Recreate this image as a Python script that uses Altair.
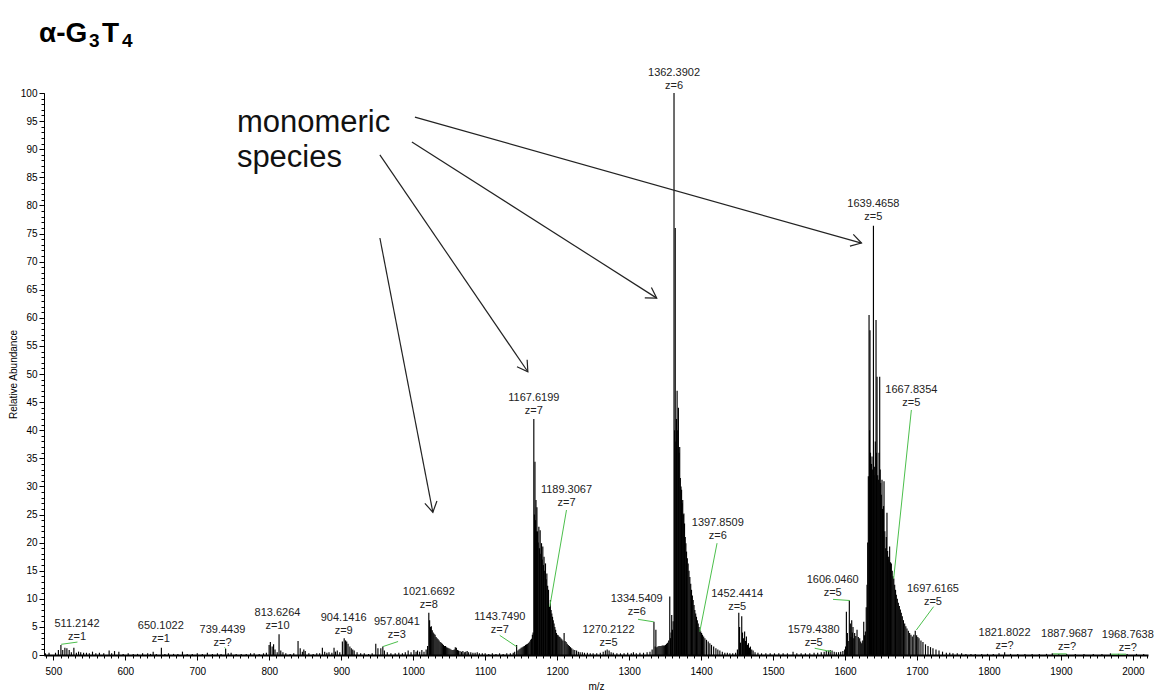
import math
import altair as alt
import pandas as pd

# ---------------- spectrum: m/z and relative abundance ----------------
# 487 - 1000
mz_r1 = [489, 494, 503, 507, 510.5, 513, 516, 518.8, 522, 525, 528.5, 532, 535, 538, 542,
         546, 550, 554.4, 559, 564, 570, 577.5, 581, 585, 591, 597, 604, 611, 617, 624,
         631, 635, 638.7, 643, 650.1, 655, 660, 667, 673, 679.4, 686, 693, 700, 707, 714,
         721, 728, 733, 739.4, 743, 747, 754, 761, 768, 774, 779, 786, 792, 796, 799.8,
         801.5, 804, 806, 808, 811, 813.6, 816, 819, 823, 829, 834, 840, 843, 846, 848,
         850, 855, 861, 866, 870, 873.8, 877, 880, 883, 887, 890, 892, 894.5, 898, 901.6,
         904.1, 906, 907.6, 909.5, 912, 914, 916, 918, 922, 927, 932, 938, 943, 948, 951,
         955, 957.8, 960, 964, 969, 975, 980, 985, 989, 993, 997]
ab_r1 = [0.3, 0.4, 0.4, 0.9, 1.8, 0.9, 1.3, 1.2, 0.9, 0.5, 1.3, 0.4, 0.6, 0.5, 0.4,
         0.4, 0.3, 0.6, 0.3, 0.4, 0.3, 0.8, 0.3, 0.7, 0.6, 0.2, 0.3, 0.2, 0.2, 0.3,
         0.3, 0.2, 0.6, 0.2, 1.3, 0.2, 0.3, 0.2, 0.2, 0.6, 0.2, 0.2, 0.3, 0.2, 0.4,
         0.2, 0.3, 0.2, 1.1, 0.3, 0.4, 0.2, 0.2, 0.2, 0.3, 0.3, 0.2, 0.3, 0.4, 1.8,
         2.3, 1.5, 1.9, 1.0, 0.5, 3.7, 0.8, 0.5, 0.3, 0.2, 0.3, 2.5, 1.2, 0.6, 1.0,
         0.7, 0.3, 0.2, 0.3, 0.3, 1.3, 0.6, 0.4, 0.5, 0.4, 1.3, 0.6, 0.8, 0.5, 2.4,
         3.0, 2.6, 2.4, 2.0, 1.5, 1.2, 1.0, 0.8, 0.5, 0.3, 0.3, 0.2, 0.3, 2.0, 1.2,
         1.2, 1.5, 0.8, 0.5, 0.3, 0.3, 0.4, 0.3, 0.5, 0.8, 0.5]

# 1000 - 1142 (z=8 envelope)
mz_r2 = [1001, 1004, 1006, 1009, 1012, 1015, 1018, 1020,
         1021.7, 1022.8, 1024, 1025.2, 1026.5, 1027.8, 1029, 1030.4, 1031.8, 1033.2, 1034.6, 1036,
         1037.5, 1039, 1040.5, 1042, 1043.5, 1045, 1046.5, 1048, 1049.5, 1051, 1052.5, 1054,
         1055.5, 1057, 1058.5, 1060, 1061.5, 1063,
         1065, 1067, 1069, 1071, 1073, 1075, 1077, 1080, 1083, 1086, 1089, 1092, 1096, 1100,
         1105, 1110, 1115, 1120, 1125, 1130, 1135, 1139, 1141]
ab_r2 = [0.9, 0.6, 0.8, 0.6, 0.9, 0.6, 1.0, 1.6,
         7.5, 6.2, 5.0, 5.1, 4.4, 4.0, 3.8, 3.6, 3.2, 3.0, 2.8, 2.6,
         2.3, 2.2, 2.0, 1.8, 1.6, 1.6, 1.4, 1.3, 1.2, 1.1, 1.0, 0.9,
         0.9, 1.0, 1.4, 1.3, 0.9, 0.8,
         0.7, 0.6, 0.7, 0.5, 0.6, 0.7, 0.5, 0.5, 0.4, 0.4, 0.5, 0.3, 0.3, 0.3,
         0.2, 0.3, 0.2, 0.3, 0.2, 0.3, 0.3, 0.4, 0.6]

# 1143 - 1333 (z=7 envelope)
mz_r3 = [1143.7, 1145.5, 1147, 1148.5, 1150, 1151.5, 1153, 1154.5, 1156, 1157.5, 1159, 1160.5,
         1162, 1163.3, 1164.5, 1165.6, 1166.6,
         1167.6, 1168.5, 1169.2, 1170.0, 1170.6, 1171.3, 1171.9, 1172.7, 1173.6, 1174.6,
         1175.5, 1176.4, 1177.3, 1178.3, 1179.2, 1180.1, 1181.0, 1181.8, 1182.8, 1183.8,
         1184.8, 1185.7, 1186.8, 1188.0, 1189.3, 1190.6, 1191.6, 1192.6, 1193.6, 1194.6,
         1195.7, 1196.8, 1197.9, 1199.0, 1200.2, 1201.4, 1202.6, 1203.8, 1205.2, 1206.5,
         1208.0, 1209.7, 1211.0, 1212.5, 1214.0, 1215.5, 1217.0, 1218.6, 1220.3, 1222.2,
         1224.5, 1227, 1229.5, 1232, 1235, 1238, 1242, 1246, 1250, 1255,
         1260, 1264, 1267, 1269.5, 1272.2, 1275, 1278, 1283, 1288, 1293,
         1298, 1303, 1306, 1310, 1315, 1320, 1325, 1329, 1332]
ab_r3 = [1.8, 0.8, 1.0, 1.1, 1.3, 1.4, 1.5, 1.6, 1.8, 1.9, 2.0, 2.2,
         2.4, 2.7, 2.9, 3.6, 4.0,
         42.0, 25.0, 34.4, 24.0, 27.6, 22.0, 26.3, 22.0, 20.0, 22.8,
         19.0, 22.2, 18.0, 19.9, 17.0, 19.3, 16.0, 17.5, 15.0, 16.3,
         13.5, 14.5, 12.3, 11.6, 8.6, 9.8, 8.0, 7.4, 6.8, 6.2,
         5.6, 5.0, 4.5, 3.9, 3.6, 3.5, 3.3, 3.2, 3.0, 2.8,
         2.6, 3.9, 2.5, 2.3, 2.0, 1.8, 1.6, 1.4, 1.2, 1.0,
         0.9, 0.8, 0.6, 0.5, 0.5, 0.4, 0.4, 0.3, 0.3, 0.3,
         0.4, 0.6, 0.8, 1.0, 0.8, 0.5, 0.4, 0.3, 0.3, 0.3,
         0.4, 0.3, 0.5, 0.3, 0.4, 0.4, 0.5, 0.6, 1.0]

# 1334 - 1598 (z=6 envelope and z=5 satellites)
mz_r4 = [1334.5, 1336.2, 1337.2, 1338.5, 1340, 1341.5, 1343, 1344.5, 1346, 1347.5,
         1349, 1350.5, 1352, 1353.5, 1355, 1356.5, 1357.5, 1358.3, 1359.2, 1360.2,
         1361.2, 1362.4, 1363.3, 1364.1, 1365.0, 1365.8, 1366.7, 1367.6, 1368.5, 1369.4,
         1370.3, 1371.2, 1372.1, 1372.9, 1373.7, 1374.5, 1375.3, 1376.1, 1377.0, 1378.0,
         1378.9, 1379.8, 1380.9, 1382.0, 1383.2, 1384.4, 1385.6, 1386.7, 1387.9, 1389.0,
         1390.2, 1391.3, 1392.5, 1393.6, 1394.8, 1396.0, 1397.2, 1398.3, 1399.5, 1400.7,
         1402.0, 1403.6, 1405.3, 1407.5, 1409.9, 1412.2, 1414.5, 1417.5, 1420.6, 1423.3,
         1426.1, 1429.5, 1433, 1436.5, 1440, 1444, 1448, 1450.5, 1452.4, 1453.5,
         1454.8, 1456.5, 1457.6, 1458.8, 1460.5, 1461.8, 1463, 1464.5, 1465.8, 1467.2,
         1468.6, 1470.4, 1472.3, 1475, 1479, 1484, 1490, 1496, 1502, 1508,
         1514, 1520, 1527.8, 1533, 1539, 1545, 1551, 1557, 1562, 1567,
         1571, 1574, 1577, 1579.4, 1582, 1585, 1588, 1591, 1594, 1597]
ab_r4 = [5.9, 1.5, 4.5, 1.4, 1.5, 1.6, 1.6, 1.6, 1.7, 1.7,
         1.7, 1.8, 2.0, 2.2, 2.6, 10.4, 3.0, 4.0, 7.1, 4.5,
         6.0, 100.0, 40.0, 76.0, 38.0, 42.0, 47.0, 40.0, 44.0, 36.0,
         37.0, 31.5, 30.0, 29.4, 27.0, 27.6, 25.0, 25.2, 23.4, 21.0,
         19.9, 18.4, 17.2, 16.3, 15.0, 13.9, 12.7, 11.6, 10.6, 9.8,
         8.9, 8.0, 7.4, 6.8, 6.2, 5.6, 5.0, 4.5, 4.2, 3.9,
         3.6, 3.3, 3.0, 2.7, 2.4, 2.1, 1.8, 1.5, 1.2, 1.0,
         0.8, 0.6, 0.4, 0.4, 0.3, 0.3, 0.4, 1.0, 7.5, 5.0,
         2.2, 6.9, 4.0, 3.0, 4.2, 2.5, 3.3, 1.8, 2.1, 1.3,
         1.5, 1.0, 0.8, 0.5, 0.4, 0.3, 0.3, 0.3, 0.3, 0.3,
         0.3, 0.3, 0.6, 0.3, 0.3, 0.3, 0.3, 0.4, 0.4, 0.5,
         0.6, 0.7, 0.8, 0.9, 0.8, 0.6, 0.5, 0.5, 0.6, 0.7]

# 1599 - 2020 (z=5 envelope and high-m/z tail)
mz_r5 = [1599.5, 1600.8, 1601.9, 1603.3, 1604.5, 1606.0, 1607.4, 1608.4, 1609.3, 1610.2,
         1611.1, 1612.2, 1613.4, 1615.0, 1616.7, 1618.5, 1620.4, 1621.8, 1623.2, 1624.6,
         1626.0, 1627.2, 1628.3, 1629.5, 1630.6, 1631.5, 1632.4, 1633.4, 1634.1, 1634.7,
         1635.4, 1636.1, 1636.8, 1637.5, 1638.4, 1639.5, 1640.3, 1641.2, 1642.1, 1643.1,
         1643.8, 1644.5, 1645.4, 1646.3, 1647.3, 1648.2, 1648.9, 1649.5, 1650.5, 1651.4,
         1652.1, 1652.8, 1653.5, 1654.2, 1655.3, 1656.5, 1657.4, 1658.3, 1659.2, 1660.2,
         1661.1, 1662.0, 1663.2, 1664.4, 1665.6, 1666.7, 1667.8, 1669.0, 1670.2, 1671.3,
         1672.7, 1674.1, 1675.5, 1676.9, 1678.2, 1679.6, 1681.2, 1682.9, 1684.5, 1686.1,
         1688.0, 1689.8, 1691.6, 1693.5, 1695.6, 1697.6, 1699.5, 1701.2, 1702.8, 1705.5,
         1708.3, 1711.8, 1715.3, 1718.8, 1722.2, 1726.4, 1730.6, 1735.5, 1740.8, 1745.5,
         1750, 1756, 1762, 1768, 1775, 1781, 1790, 1798, 1806, 1814,
         1821.8, 1830, 1840, 1850, 1860, 1870, 1880, 1888.0, 1897, 1908,
         1920, 1932, 1945, 1957, 1968.8, 1980, 1992, 2005, 2015]
ab_r5 = [1.0, 1.5, 7.7, 3.9, 2.5, 9.7, 5.6, 3.2, 6.2, 4.0,
         5.0, 3.0, 3.9, 3.4, 4.5, 3.2, 3.0, 2.4, 2.1, 2.6,
         5.9, 3.5, 4.2, 8.5, 12.5, 20.0, 31.8, 60.5, 40.0, 57.8,
         36.0, 32.4, 34.0, 35.3, 33.0, 76.4, 32.0, 33.5, 38.0, 59.6,
         36.0, 49.5, 32.0, 31.2, 36.0, 49.5, 33.0, 30.6, 28.5, 31.2,
         26.0, 24.1, 26.5, 30.9, 22.0, 19.0, 21.0, 25.3, 18.5, 17.5,
         17.0, 19.3, 16.5, 16.3, 15.0, 14.0, 13.6, 12.5, 11.6, 10.7,
         10.0, 9.3, 8.7, 8.1, 7.5, 6.9, 6.2, 5.6, 5.1, 4.7,
         4.3, 3.9, 3.6, 3.3, 3.6, 4.3, 3.5, 3.2, 3.0, 2.6,
         2.3, 1.9, 1.6, 1.4, 1.2, 1.0, 0.8, 0.6, 0.4, 0.4,
         0.3, 0.3, 0.3, 0.2, 0.2, 0.2, 0.2, 0.2, 0.2, 0.3,
         0.5, 0.2, 0.2, 0.2, 0.2, 0.2, 0.2, 0.3, 0.2, 0.2,
         0.2, 0.2, 0.2, 0.2, 0.3, 0.2, 0.2, 0.2, 0.2]

spectrum = pd.DataFrame({
    "mz": mz_r1 + mz_r2 + mz_r3 + mz_r4 + mz_r5,
    "abundance": ab_r1 + ab_r2 + ab_r3 + ab_r4 + ab_r5,
})

# ---------------- peak labels (m/z, charge) ----------------
label_mass = ["511.2142", "650.1022", "739.4439", "813.6264", "904.1416", "957.8041",
              "1021.6692", "1143.7490", "1167.6199", "1189.3067", "1270.2122", "1334.5409",
              "1362.3902", "1397.8509", "1452.4414", "1579.4380", "1606.0460", "1639.4658",
              "1667.8354", "1697.6165", "1821.8022", "1887.9687", "1968.7638"]
label_charge = ["z=1", "z=1", "z=?", "z=10", "z=9", "z=3",
                "z=8", "z=7", "z=7", "z=7", "z=5", "z=6",
                "z=6", "z=6", "z=5", "z=5", "z=5", "z=5",
                "z=5", "z=5", "z=?", "z=?", "z=?"]
label_mz = [532.9, 649.3, 735.0, 811.4, 903.4, 977.3,
            1021.7, 1120.4, 1167.6, 1213.0, 1271.5, 1310.6,
            1362.4, 1423.2, 1450.2, 1556.5, 1582.9, 1639.4,
            1692.2, 1722.2, 1821.7, 1908.6, 1993.0]
label_ab = [2.4, 1.9, 1.3, 4.2, 3.4, 2.7,
            8.0, 3.6, 42.6, 26.2, 1.25, 6.7,
            100.3, 20.3, 7.7, 1.25, 10.1, 77.1,
            43.9, 8.6, 0.7, 0.5, 0.35]

labels = pd.DataFrame({
    "text": [f"{m}\n{z}" for m, z in zip(label_mass, label_charge)],
    "mz": label_mz,
    "abundance": label_ab,
})

# leader lines from a peak top to its label
leader_mz1 = [510.8, 739.4, 958.0, 1143.5, 1189.8, 1334.2, 1398.2, 1581.1, 1606.5, 1667.6, 1699.1, 1889.0, 1969.8]
leader_ab1 = [1.9, 1.1, 1.5, 1.5, 8.6, 5.9, 4.15, 0.6, 9.7, 13.6, 4.45, 0.2, 0.15]
leader_mz2 = [533.5, 738.0, 979.0, 1120.2, 1213.0, 1312.4, 1422.2, 1557.9, 1583.3, 1692.2, 1723.1, 1908.0, 1990.6]
leader_ab2 = [2.3, 1.35, 2.4, 3.5, 25.8, 6.35, 19.9, 1.2, 9.9, 43.6, 8.6, 0.2, 0.15]
leaders = pd.DataFrame({"mz": leader_mz1, "abundance": leader_ab1,
                        "mz2": leader_mz2, "abundance2": leader_ab2})

# ---------------- heading "α-G3T4" (subscripted digits) ----------------
head_text = ["α-G", "T"]
head_mz = [480.0, 567.6]
head_ab = [109.1, 109.1]
sub_text = ["3", "4"]
sub_mz = [549.5, 595.4]
sub_ab = [108.2, 108.2]
heading = pd.DataFrame({"text": head_text, "mz": head_mz, "abundance": head_ab})
heading_sub = pd.DataFrame({"text": sub_text, "mz": sub_mz, "abundance": sub_ab})

# ---------------- "monomeric species" call-out ----------------
note_text = ["monomeric", "species"]
note_mz = [755.0, 755.0]
note_ab = [93.0, 86.8]
notes = pd.DataFrame({"text": note_text, "mz": note_mz, "abundance": note_ab})

arrow_mz1 = [1002.4, 998.2, 953.7, 953.7]
arrow_ab1 = [95.7, 91.3, 89.0, 74.2]
arrow_mz2 = [1622.9, 1338.4, 1159.3, 1027.3]
arrow_ab2 = [73.3, 63.5, 50.4, 25.4]

# ---------------- layout ----------------
MZ_MIN, MZ_MAX = 487, 2021
PLOT_W, PLOT_H = 1104, 562
px_per_mz = PLOT_W / (MZ_MAX - MZ_MIN)
px_per_ab = PLOT_H / 100.0

# heading of each arrow on screen, so the open head lines up with its shaft
arrow_angle = []
for m1, a1, m2, a2 in zip(arrow_mz1, arrow_ab1, arrow_mz2, arrow_ab2):
    dx = (m2 - m1) * px_per_mz
    dy = -(a2 - a1) * px_per_ab
    arrow_angle.append(math.degrees(math.atan2(dy, dx)) % 360)

arrows = pd.DataFrame({"mz": arrow_mz1, "abundance": arrow_ab1,
                       "mz2": arrow_mz2, "abundance2": arrow_ab2,
                       "angle": arrow_angle})

FONT = "Liberation Sans"
x_scale = alt.Scale(domain=[MZ_MIN, MZ_MAX], nice=False, zero=False)
y_scale = alt.Scale(domain=[0, 100], nice=False, zero=True)

x_major = alt.Axis(
    values=list(range(500, 2001, 100)), format="d", title="m/z",
    orient="bottom", tickSize=5, tickColor="black", tickWidth=1,
    labelFont=FONT, labelFontSize=10, labelColor="black", labelPadding=6,
    titleFont=FONT, titleFontSize=10, titleFontWeight="normal", titleColor="black",
    titlePadding=5, domainColor="black", domainWidth=2, grid=False, labelFlush=False,
)
y_major = alt.Axis(
    values=list(range(0, 101, 5)), title="Relative Abundance",
    orient="left", tickSize=5, tickColor="black", tickWidth=1,
    labelFont=FONT, labelFontSize=10, labelColor="black", labelPadding=2,
    titleFont=FONT, titleFontSize=10, titleFontWeight="normal", titleColor="black",
    titlePadding=2, domainColor="black", domainWidth=1, grid=False,
)
x_minor = alt.Axis(values=list(range(490, 2021, 10)), orient="bottom", labels=False,
                   title=None, tickSize=3, tickColor="black", domain=False, grid=False)
y_minor = alt.Axis(values=list(range(0, 101, 1)), orient="left", labels=False,
                   title=None, tickSize=3, tickColor="black", domain=False, grid=False)


def plain_xy(x_field="mz", y_field="abundance"):
    return dict(
        x=alt.X(f"{x_field}:Q", scale=x_scale, axis=None),
        y=alt.Y(f"{y_field}:Q", scale=y_scale, axis=None),
    )


sticks = alt.Chart(spectrum).mark_rule(color="black", strokeWidth=1.15).encode(
    x=alt.X("mz:Q", scale=x_scale, axis=x_major),
    y=alt.Y("abundance:Q", scale=y_scale, axis=y_major),
    y2=alt.datum(0),
)

minor_ticks = alt.Chart(spectrum).mark_rule(opacity=0).encode(
    x=alt.X("mz:Q", scale=x_scale, axis=x_minor),
    y=alt.Y("abundance:Q", scale=y_scale, axis=y_minor),
)

leader_lines = alt.Chart(leaders).mark_rule(color="#4cbf4c", strokeWidth=1).encode(
    **plain_xy(), x2="mz2:Q", y2="abundance2:Q",
)

# two-line labels: the text block's last line sits on the anchor
peak_labels = alt.Chart(labels).mark_text(
    font=FONT, fontSize=11, lineHeight=13, lineBreak="\n", dy=-13,
    align="center", baseline="bottom", color="#222222",
).encode(**plain_xy(), text="text:N")

note_labels = alt.Chart(notes).mark_text(
    font=FONT, fontSize=31, align="left", baseline="alphabetic", color="#111111",
).encode(**plain_xy(), text="text:N")

heading_main = alt.Chart(heading).mark_text(
    font=FONT, fontSize=28, fontWeight="bold", align="left", baseline="alphabetic",
    color="black",
).encode(**plain_xy(), text="text:N")

heading_subs = alt.Chart(heading_sub).mark_text(
    font=FONT, fontSize=19, fontWeight="bold", align="left", baseline="alphabetic",
    color="black",
).encode(**plain_xy(), text="text:N")

arrow_shafts = alt.Chart(arrows).mark_rule(color="#222222", strokeWidth=1.2).encode(
    **plain_xy(), x2="mz2:Q", y2="abundance2:Q",
)

arrow_heads = alt.Chart(arrows).mark_point(
    shape="M -1 -0.6 L 0 0 L -1 0.6", filled=False, size=420,
    strokeWidth=1.2, color="#222222", opacity=1,
).encode(
    **plain_xy("mz2", "abundance2"),
    angle=alt.Angle("angle:Q", scale=None),
)

chart = alt.layer(
    minor_ticks, sticks, leader_lines, peak_labels, note_labels,
    arrow_shafts, arrow_heads, heading_main, heading_subs,
).resolve_axis(
    x="independent", y="independent",
).properties(
    width=PLOT_W,
    height=PLOT_H,
    autosize=alt.AutoSizeParams(type="none"),
    padding={"left": 44, "top": 93, "right": 12, "bottom": 42},
    background="white",
).configure_view(strokeWidth=0)

chart.save("out.html", embed_options={"renderer": "svg", "actions": False})
